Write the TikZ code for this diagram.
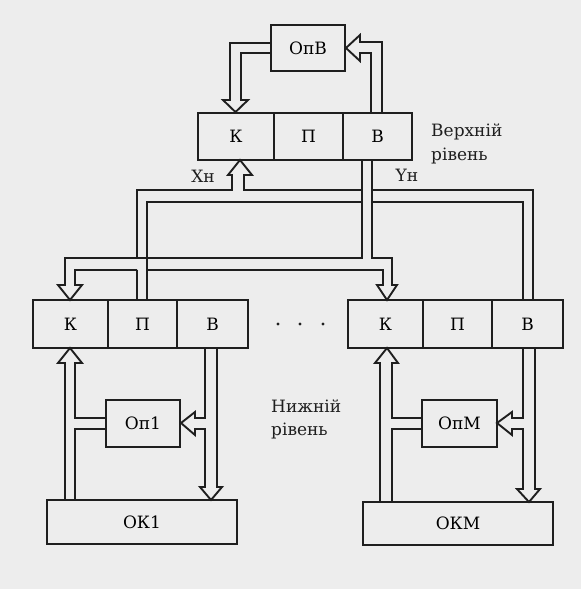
\documentclass[tikz,border=0pt]{standalone}
\usepackage{fontspec}
\setmainfont{DejaVu Serif}
\begin{document}
\begin{tikzpicture}[x=1pt,y=-1pt,
  ink/.style={draw=black!88,line width=1.9pt},
  box/.style={ink,rectangle,inner sep=0pt,font=\fontsize{17}{19}\selectfont},
  bus/.style={ink,line join=miter},
  lbl/.style={inner sep=0pt,font=\fontsize{17}{20}\selectfont,text=black!88}]
\useasboundingbox[fill=black!7] (0,0) rectangle (581,589);
% upper level
\node[box,minimum width=74pt,minimum height=46pt] (opv) at (308,48) {ОпВ};
\node[box,minimum width=76pt,minimum height=47pt] (ku) at (236,136.5) {К};
\node[box,minimum width=69pt,minimum height=47pt] (pu) at (308.5,136.5) {П};
\node[box,minimum width=69pt,minimum height=47pt] (vu) at (377.5,136.5) {В};
% lower left
\node[box,minimum width=75pt,minimum height=48pt] (kl) at (70.5,324) {К};
\node[box,minimum width=69pt,minimum height=48pt] (pl) at (142.5,324) {П};
\node[box,minimum width=71pt,minimum height=48pt] (vl) at (212.5,324) {В};
% lower right
\node[box,minimum width=75pt,minimum height=48pt] (kr) at (385.5,324) {К};
\node[box,minimum width=69pt,minimum height=48pt] (pr) at (457.5,324) {П};
\node[box,minimum width=71pt,minimum height=48pt] (vr) at (527.5,324) {В};
% operators and objects
\node[box,minimum width=74pt,minimum height=47pt] (op1) at (143,423.5) {Оп1};
\node[box,minimum width=75pt,minimum height=47pt] (opm) at (459.5,423.5) {ОпМ};
\node[box,minimum width=190pt,minimum height=44pt] (ok1) at (142,522) {ОК1};
\node[box,minimum width=190pt,minimum height=43pt] (okm) at (458,523.5) {ОКМ};
% labels
\node[lbl,anchor=west] (top1) at (431,132) {Верхній};
\node[lbl,anchor=west] (top2) at (431,156) {рівень};
\node[lbl,anchor=west] (bot1) at (271,406) {Нижній};
\node[lbl,anchor=west] (bot2) at (271,431) {рівень};
\node[lbl] (xn) at (203,176) {Xн};
\node[lbl] (yn) at (407,175) {Yн};
\foreach \dx in {278,300,323} \fill[black!88] (\dx,324) circle (1.7pt);
% OpV -> upper K
\draw[bus] (opv.west |- 0,43) -- (230,43) -- (230,100) -- (223,100) -- (ku.north -| 235.5,0) -- (248,100) -- (241,100) -- (241,53) -- (opv.west |- 0,53);
% upper V -> OpV
\draw[bus] (382,113) -- (382,42) -- (360,42) -- (360,35) -- (opv.east |- 0,48) -- (360,61) -- (360,53) -- (371,53) -- (371,113);
% X bus into upper K
\draw[bus] (137,258) -- (137,190) -- (232,190) -- (232,175) -- (228,175) -- (240,160) -- (252,175) -- (244,175) -- (244,190) -- (362,190);
\draw[bus] (372,190) -- (533,190) -- (533,300);
\draw[bus] (137,270) -- (137,300);
\draw[bus] (147,300) -- (147,202) -- (362,202);
\draw[bus] (372,202) -- (523,202) -- (523,300);
% Y bus from upper V
\draw[bus] (362,160) -- (362,258) -- (65,258) -- (65,285) -- (58,285) -- (70,300) -- (82,285) -- (75,285) -- (75,270) -- (137,270);
\draw[bus] (147,270) -- (383,270) -- (383,285) -- (377,285) -- (387,300) -- (397,285) -- (392,285) -- (392,258) -- (372,258) -- (372,160);
% lower left
\draw[bus] (65,500) -- (65,363) -- (58,363) -- (70,348) -- (82,363) -- (75,363) -- (75,418) -- (106,418);
\draw[bus] (106,429) -- (75,429) -- (75,500);
\draw[bus] (205,348) -- (205,418) -- (195,418) -- (195,412) -- (181,423) -- (195,435) -- (195,429) -- (205,429) -- (205,487) -- (200,487) -- (211,500) -- (222,487) -- (217,487) -- (217,348);
% lower right
\draw[bus] (380,502) -- (380,363) -- (375,363) -- (387,348) -- (398,363) -- (392,363) -- (392,418) -- (422,418);
\draw[bus] (422,429) -- (392,429) -- (392,502);
\draw[bus] (523,348) -- (523,418) -- (512,418) -- (512,412) -- (497,423) -- (512,435) -- (512,429) -- (523,429) -- (523,489) -- (517,489) -- (529,502) -- (540,489) -- (535,489) -- (535,348);
\end{tikzpicture}
\end{document}
